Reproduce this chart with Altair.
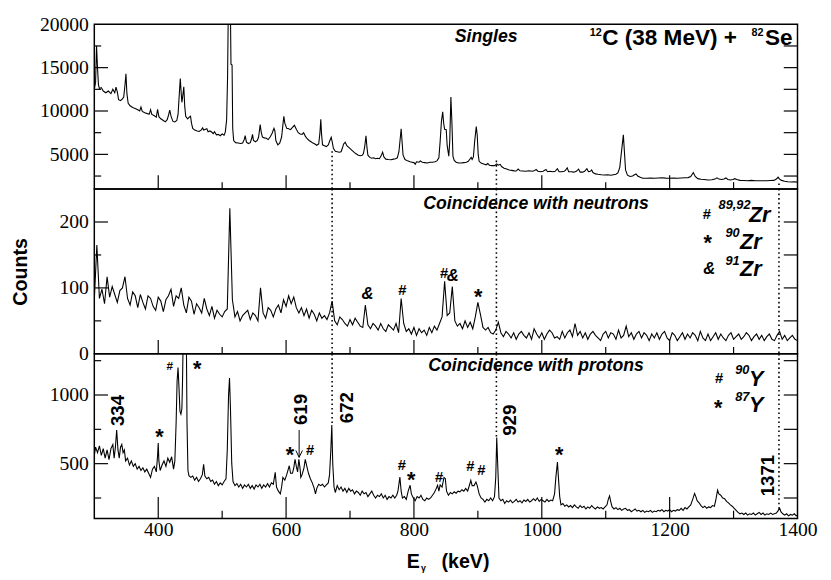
import altair as alt
import pandas as pd

# ---------------- data ----------------
# Singles spectrum: (E keV, counts)
TOP_POINTS = [
    (300, 12500), (302, 13300), (303.5, 17500), (305, 15000), (306.5, 13000), (308, 12600), (311, 12700),
    (314, 12300), (318, 12100), (322, 12300), (326, 12000), (329, 12500), (332, 12100), (334, 12750),
    (336, 12200), (338, 11300), (341, 11200), (344, 11400), (346, 11600), (348, 13000), (349.5, 14300),
    (351, 12000), (353, 10900), (356, 10600), (360, 10400), (364, 10300), (368, 10150), (371, 10000),
    (373, 10450), (375, 9950), (379, 9800), (383, 9700), (386, 9650), (388, 10150), (390, 9600),
    (394, 9450), (397, 9300), (399, 10200), (401, 9350), (404, 9100), (408, 8900), (411, 8750),
    (414, 9000), (416, 9500), (418, 10100), (420, 9400), (423, 8800), (426, 8750), (429, 8900),
    (431, 9600), (433, 12000), (434.5, 13750), (436, 12000), (437, 11000), (438, 11500), (440, 12800),
    (441.5, 10500), (443, 9400), (446, 9100), (448.5, 9300), (450.5, 9400), (452, 8600), (454, 8000),
    (457, 7800), (461, 7700), (464, 7650), (467, 7800), (469.5, 8050), (471, 7800), (474, 7900),
    (476, 7950), (478, 7600), (481, 7700), (484, 7550), (486, 7400), (488, 7600), (491, 7250),
    (494, 7300), (497, 7150), (500, 7350), (503, 7200), (505, 7600), (507, 9000), (508.5, 14000),
    (509.5, 21000), (513, 21000), (513.8, 15400), (515.5, 15300), (516.5, 8000), (518, 6600),
    (521, 6350), (525, 6300), (529, 6250), (532, 6300), (534.5, 6700), (536, 7150), (538, 6400),
    (541, 6250), (544, 6350), (546, 6800), (547.5, 7300), (549, 6600), (552, 6450), (555, 6600),
    (557, 7000), (559.5, 8450), (561, 7600), (563, 7000), (566, 6900), (569, 6850), (572, 6700),
    (575, 7000), (578, 7400), (581, 8000), (582.5, 7700), (584, 6600), (587, 6100), (590, 6300),
    (593, 7000), (595, 8400), (596.5, 9400), (598, 8600), (601, 8000), (604, 7950), (607, 7850),
    (610, 8100), (613, 8350), (616, 7900), (619, 7500), (622, 7350), (625, 7300), (627.5, 7500),
    (630, 7100), (633, 6800), (636, 6600), (639, 6450), (642, 6300), (645, 6200), (648, 6050),
    (651, 6200), (653, 7500), (654.3, 9050), (655.5, 7300), (657, 6100), (660, 6000), (663, 5900),
    (666, 6100), (668.5, 6600), (670.6, 6970), (672, 6500), (674, 5700), (677, 5350), (680, 5300),
    (683, 5250), (686, 5300), (688, 5700), (690, 6200), (692.5, 6400), (695, 6000), (698, 5800),
    (701, 5600), (704, 5400), (707, 5200), (710, 5050), (713, 4900), (716, 4850), (719, 4900),
    (721, 5100), (723, 5900), (725, 7150), (726.5, 5800), (728, 4900), (731, 4650), (734, 4550),
    (737, 4600), (740, 4500), (743, 4550), (746, 4500), (748.5, 4800), (751, 5250), (753, 4700),
    (756, 4450), (760, 4400), (764, 4380), (768, 4450), (771, 4500), (774, 4600), (776.5, 5300),
    (778.5, 6800), (780, 7950), (781.5, 6400), (783, 4900), (786, 4400), (790, 4250), (794, 4150),
    (797, 4100), (800, 4050), (802, 3850), (804, 4150), (808, 4100), (810, 4250), (813, 4100),
    (817, 4050), (821, 4000), (825, 4100), (829, 4100), (833, 4150), (836, 4250), (839, 4600),
    (841, 6500), (843, 8800), (845, 9900), (846.5, 8600), (848, 7900), (850.5, 7850), (852, 6000),
    (854.5, 4800), (856, 6500), (857.8, 11600), (859.5, 8500), (861, 4800), (863, 4300), (866, 4100),
    (870, 4000), (874, 4000), (878, 4050), (882, 4100), (885, 4200), (888, 4500), (889.5, 4650),
    (891, 4400), (893, 4700), (895, 6500), (897.5, 8200), (899, 7200), (900.5, 5000), (902, 4200),
    (905, 4000), (909, 3900), (913, 3800), (915.5, 3950), (918, 3750), (922, 3700), (926, 3700),
    (929.5, 3900), (932, 3750), (935, 3850), (937, 3600), (941, 3400), (945, 3300), (949, 3200),
    (953, 3150), (957, 3100), (960, 3080), (963, 3300), (966, 3100), (970, 3080), (975, 3050),
    (980, 3100), (985, 3050), (988, 3100), (991, 3250), (994, 3050), (998, 3000), (1002, 3050),
    (1006.5, 3250), (1009, 3000), (1013, 3050), (1017, 3000), (1021, 3050), (1024.4, 3350),
    (1027, 3000), (1031, 3000), (1035, 3050), (1037, 3150), (1039.8, 3450), (1042, 3000),
    (1046, 3000), (1050, 2950), (1054, 3050), (1057.6, 3300), (1060, 2950), (1064, 2950),
    (1067, 3050), (1070.5, 3350), (1073, 3000), (1076, 3050), (1078, 3200), (1080, 2900),
    (1084, 2750), (1088, 2700), (1093, 2650), (1098, 2620), (1103, 2650), (1108, 2600), (1112, 2650),
    (1116, 2700), (1119, 2850), (1122, 3500), (1124.5, 5200), (1127.6, 7250), (1129.5, 5000),
    (1131, 3200), (1134, 2600), (1138, 2450), (1142, 2500), (1145, 2650), (1147.5, 2750),
    (1150, 2500), (1154, 2350), (1158, 2250), (1164, 2250), (1170, 2260), (1176, 2250), (1182, 2280),
    (1188, 2300), (1194, 2260), (1200, 2250), (1206, 2270), (1212, 2250), (1218, 2280), (1224, 2300),
    (1229, 2320), (1233, 2450), (1237, 2900), (1240, 2450), (1244, 2200), (1249, 2120), (1254, 2100),
    (1260, 2050), (1266, 2080), (1271, 2150), (1274, 2300), (1277, 2150), (1281, 2100), (1285, 2150),
    (1288, 2280), (1291, 2100), (1295, 2050), (1299, 2100), (1302, 2200), (1305, 2100), (1310, 2000),
    (1316, 1980), (1322, 1950), (1328, 2000), (1334, 1960), (1340, 1950), (1346, 1960), (1352, 1950),
    (1358, 1980), (1363, 2000), (1367, 2150), (1369.6, 2380), (1372, 2150), (1375, 2000),
    (1380, 1900), (1385, 1850), (1390, 1820), (1395, 1850), (1400, 1800),
]

# Coincidence with neutrons: counts in 4 keV channels starting at 300 keV
MID_FIRST_E = 300
MID_BIN_KEV = 4
MID_COUNTS = [
    82, 165, 84, 98, 76, 117, 86, 102, 90, 78,
    96, 100, 117, 84, 74, 94, 88, 70, 90, 78,
    68, 88, 84, 72, 66, 86, 80, 64, 82, 88,
    98, 72, 88, 84, 100, 74, 62, 86, 80, 60,
    76, 70, 62, 84, 68, 58, 72, 54, 66, 60,
    56, 64, 68, 221, 82, 56, 64, 50, 58, 62,
    66, 52, 62, 58, 50, 100, 62, 54, 70, 66,
    56, 68, 74, 62, 82, 72, 88, 76, 86, 70,
    62, 70, 58, 68, 54, 66, 60, 50, 62, 54,
    58, 52, 62, 80, 50, 44, 56, 52, 46, 42,
    52, 44, 54, 48, 42, 40, 74, 44, 38, 46,
    42, 36, 46, 38, 34, 44, 40, 36, 46, 32,
    84, 46, 34, 38, 30, 40, 28, 38, 32, 36,
    28, 40, 32, 42, 36, 46, 56, 110, 58, 62,
    102, 50, 42, 46, 38, 50, 40, 48, 38, 56,
    78, 60, 40, 36, 40, 32, 30, 36, 48, 32,
    26, 34, 30, 24, 32, 22, 30, 34, 28, 24,
    32, 22, 38, 30, 24, 32, 22, 30, 36, 32,
    24, 26, 22, 34, 24, 32, 36, 26, 46, 28,
    34, 24, 32, 22, 30, 34, 28, 24, 20, 30,
    34, 24, 32, 30, 22, 36, 24, 28, 42, 26,
    32, 22, 30, 34, 24, 32, 28, 20, 30, 24,
    32, 22, 30, 34, 24, 20, 32, 28, 20, 26,
    32, 22, 30, 24, 32, 28, 20, 34, 24, 20,
    30, 20, 26, 32, 22, 30, 24, 20, 28, 32,
    22, 26, 30, 22, 26, 32, 28, 20, 26, 30,
    22, 28, 20, 26, 30, 22, 20, 28, 34, 22,
    28, 20, 24, 28, 22, 20,
]

# Coincidence with protons: (E keV, counts)
BOT_POINTS = [
    (300, 560), (302, 620), (305, 580), (308, 630), (311, 560), (314, 610), (317, 540), (320, 600),
    (323, 530), (326, 610), (329, 640), (331, 540), (333, 620), (335, 745), (337, 600), (339, 540),
    (341, 620), (343, 640), (345, 580), (347, 600), (349, 520), (352, 540), (355, 490), (358, 520),
    (361, 480), (364, 500), (367, 460), (370, 480), (373, 450), (376, 470), (379, 440), (382, 460),
    (385, 430), (388, 400), (391, 460), (394, 480), (397, 440), (399, 560), (400, 651), (401, 520),
    (403, 450), (406, 490), (409, 520), (412, 480), (415, 540), (418, 510), (421, 550), (424, 460),
    (426, 520), (428, 800), (429.5, 1100), (431, 1200), (432.5, 1050), (434, 880), (435.5, 860),
    (437, 900), (438, 1100), (439, 1400), (444, 1400), (445, 800), (446.5, 450), (448, 413),
    (451, 400), (454, 410), (457, 380), (460, 400), (463, 370), (466, 390), (469, 420), (471, 496),
    (473, 410), (476, 390), (479, 400), (482, 370), (485, 380), (488, 350), (491, 370), (494, 340),
    (497, 360), (500, 345), (503, 370), (506, 390), (508, 600), (510, 1000), (511.5, 1124),
    (513, 900), (515, 500), (517, 370), (520, 340), (523, 355), (526, 330), (529, 350), (532, 320),
    (535, 345), (538, 330), (541, 350), (544, 320), (547, 340), (550, 315), (553, 345), (556, 330),
    (559, 350), (562, 320), (565, 345), (568, 330), (571, 355), (574, 330), (577, 360), (580, 350),
    (583, 437), (585, 330), (588, 300), (591, 280), (593, 330), (595, 400), (598, 380), (601, 420),
    (604, 470), (605, 485), (607, 430), (610, 430), (612, 470), (614, 532), (616, 480), (618, 440),
    (620, 532), (622, 460), (623, 400), (625, 420), (628, 470), (630, 532), (632, 490), (635, 430),
    (638, 390), (641, 360), (644, 320), (646, 280), (648, 320), (651, 350), (654, 340), (657, 350),
    (660, 330), (663, 345), (666, 360), (668, 420), (670, 600), (671.5, 781), (673, 500), (675, 330),
    (677, 290), (680, 340), (683, 310), (686, 330), (689, 300), (692, 320), (695, 290), (698, 320),
    (701, 300), (704, 310), (707, 280), (710, 300), (713, 290), (716, 270), (719, 300), (722, 280),
    (725, 290), (728, 260), (731, 280), (734, 300), (737, 270), (740, 250), (743, 270), (746, 260),
    (749, 280), (752, 250), (755, 270), (758, 240), (761, 260), (764, 250), (767, 270), (770, 250),
    (773, 270), (775, 300), (778, 402), (780, 300), (782, 250), (785, 260), (788, 240), (791, 300),
    (794, 343), (796, 280), (799, 250), (802, 230), (805, 260), (808, 250), (811, 270), (814, 240),
    (817, 230), (820, 250), (823, 240), (826, 250), (829, 270), (832, 290), (835, 320), (837, 343),
    (839, 300), (841, 345), (844, 330), (847, 400), (849, 392), (851, 300), (854, 270), (857, 290),
    (860, 280), (863, 295), (866, 285), (869, 300), (872, 295), (875, 310), (878, 300), (881, 320),
    (884, 300), (886, 330), (889, 378), (891, 340), (894, 340), (897, 366), (899, 340), (902, 280),
    (905, 250), (908, 240), (911, 220), (914, 240), (917, 230), (920, 250), (923, 230), (926, 260),
    (928, 400), (929.5, 690), (931, 500), (933, 250), (936, 230), (939, 240), (942, 210), (945, 230),
    (948, 220), (951, 235), (954, 215), (957, 225), (960, 240), (963, 220), (966, 230), (969, 215),
    (972, 235), (975, 225), (978, 240), (981, 220), (984, 230), (987, 245), (990, 230), (993, 250),
    (996, 225), (999, 240), (1002, 230), (1005, 220), (1008, 240), (1011, 225), (1014, 235),
    (1017, 230), (1020, 280), (1022, 400), (1024.5, 511), (1026, 400), (1028, 260), (1030, 200),
    (1033, 210), (1036, 190), (1039, 200), (1042, 185), (1045, 195), (1048, 180), (1051, 200),
    (1054, 185), (1057, 175), (1060, 195), (1063, 180), (1066, 190), (1069, 170), (1072, 185),
    (1075, 175), (1078, 195), (1081, 180), (1084, 170), (1087, 185), (1090, 175), (1093, 180),
    (1096, 170), (1099, 185), (1102, 200), (1104, 240), (1106, 265), (1108, 220), (1110, 185),
    (1113, 170), (1116, 180), (1119, 165), (1122, 175), (1125, 160), (1128, 170), (1131, 175),
    (1134, 160), (1137, 165), (1140, 150), (1143, 160), (1146, 170), (1149, 155), (1152, 160),
    (1155, 150), (1158, 160), (1161, 145), (1164, 155), (1167, 150), (1170, 160), (1173, 145),
    (1176, 155), (1179, 150), (1182, 160), (1185, 155), (1188, 165), (1191, 150), (1194, 160),
    (1197, 155), (1200, 165), (1203, 150), (1206, 160), (1209, 155), (1212, 165), (1215, 160),
    (1218, 175), (1221, 160), (1224, 180), (1227, 170), (1230, 185), (1233, 200), (1236, 240),
    (1239, 283), (1241, 260), (1243, 230), (1246, 215), (1249, 195), (1252, 180), (1255, 190),
    (1258, 175), (1261, 185), (1264, 180), (1267, 195), (1270, 190), (1272, 230), (1275, 307),
    (1277, 280), (1280, 270), (1283, 250), (1286, 245), (1289, 225), (1292, 215), (1295, 200),
    (1298, 190), (1301, 175), (1304, 160), (1307, 145), (1310, 135), (1313, 140), (1316, 130),
    (1319, 140), (1322, 125), (1325, 135), (1328, 130), (1331, 140), (1334, 125), (1337, 135),
    (1340, 145), (1343, 130), (1346, 140), (1349, 125), (1352, 135), (1355, 130), (1358, 140),
    (1361, 130), (1364, 135), (1367, 140), (1370, 160), (1372, 177), (1374, 150), (1377, 135),
    (1380, 125), (1383, 135), (1386, 120), (1389, 130), (1392, 125), (1395, 135), (1398, 120),
    (1400, 125),
]

X_DOMAIN = [300, 1400]
TOP_DOMAIN = [1000, 20000]
MID_DOMAIN = [0, 250]
BOT_DOMAIN = [100, 1300]

X_LABELS = [400, 600, 800, 1000, 1200, 1400]
X_MAJOR = [400, 600, 800, 1000, 1200]
X_MINOR = [500, 700, 900, 1100, 1300]
TOP_Y_LABELS = [5000, 10000, 15000, 20000]
TOP_Y_MAJOR = [5000, 10000, 15000]
TOP_Y_MINOR = [2500, 7500, 12500, 17500]
MID_Y_LABELS = [0, 100, 200]
MID_Y_MAJOR = [100, 200]
MID_Y_MINOR = [50, 150]
BOT_Y_LABELS = [500, 1000]
BOT_Y_MAJOR = [500, 1000]
BOT_Y_MINOR = [250, 750, 1250]

# dotted markers at the transitions (keV) and where they start / end (counts)
MARKED_E = [672, 929, 1371]
TOP_MARK_FROM = [5370, 4280, 1650]
BOT_MARK_TO = [781, 690, 167]

# annotation texts with their anchor (keV, counts)
TOP_TITLE = (["Singles"], [913], [18000])
BEAM_MAIN = (["C (38 MeV) +", "Se"], [1094.5, 1349], [17650, 17650])
BEAM_MASS = (["12", "82"], [1075, 1328], [18600, 18600])

MID_TITLE = (["Coincidence with neutrons"], [991], [219])
MID_ELEM = (["Zr", "Zr", "Zr"], [1324, 1310, 1310], [200.5, 159, 118.8])
MID_MASS = (["89,92", "90", "91"], [1276.6, 1287.3, 1287.3], [219.1, 176.8, 135.2])
MID_HASH = (["#", "#", "#"], [1258, 781.7, 847], [204, 89, 114.4])
MID_STAR = (["*", "*"], [1259.6, 900.6], [157.5, 75])
MID_AMP = (["&", "&", "&"], [1262, 727.3, 860.8], [121.4, 83.2, 109.9])

BOT_TITLE = (["Coincidence with protons"], [991], [1175])
BOT_ELEM = (["Y", "Y"], [1324, 1324], [1065, 875])
BOT_MASS = (["90", "87"], [1302.6, 1302.6], [1150, 958])
BOT_HASH = (["#", "#", "#", "#", "#", "#"], [1277.3, 637.5, 781, 839.3, 888.4, 905.3],
            [1089, 560, 454, 368, 447, 418])
BOT_HASH_SMALL = (["#"], [418.1], [1179])
BOT_STAR = (["*", "*", "*", "*", "*", "*"], [1275.8, 461, 402, 606, 795.6, 1027.2],
            [852, 1140, 646, 511, 333, 511])
BOT_ENERGIES = (["334", "619", "672", "929", "1371"], [337.6, 623.7, 695.8, 949.9, 1354],
                [774, 781, 795, 703, 262])
ARROW_SHAFT = ([620.4], [745], [546])
ARROW_HEAD = ([615.3, 625.6], [596, 596], [620.4, 620.4], [546, 546])

X_TITLE = ["E", "γ", "(keV)"]
Y_TITLE = "Counts"

# ---------------- chart ----------------
W, H = 717, 168
SANS = "Liberation Sans"
SERIF = "Liberation Serif"


def y_axis(values, **kw):
    return alt.Axis(values=values, ticks=False, domain=False, grid=False, labelFont=SERIF,
                    labelFontSize=20, labelColor="black", labelPadding=6, format="d", **kw)


X_AXIS_BOTTOM = alt.Axis(values=X_LABELS, ticks=False, domain=False, grid=False,
                         labelFont=SERIF, labelFontSize=20, labelColor="black", format="d",
                         labelPadding=1, labelFlush=False, title=None)


class Panel:
    def __init__(self, dom, yaxis, xaxis=None):
        self.dom, self.yaxis, self.xaxis = dom, yaxis, xaxis

    def X(self):
        return alt.X("E:Q", scale=alt.Scale(domain=X_DOMAIN, nice=False, zero=False),
                     axis=self.xaxis)

    def Y(self):
        return alt.Y("C:Q", scale=alt.Scale(domain=self.dom, nice=False, zero=False),
                     axis=self.yaxis)

    def spectrum(self, df, interp="linear"):
        return alt.Chart(df).mark_line(color="black", strokeWidth=1.1, clip=True,
                                       interpolate=interp).encode(x=self.X(), y=self.Y())

    def x_ticks(self, values, size):
        return alt.Chart(pd.DataFrame({"E": values})).mark_rule(
            color="black", strokeWidth=1.2).encode(x=self.X(), y=alt.value(H), y2=alt.value(H - size))

    def y_ticks(self, values, size, right=False):
        x0, x1 = (W, W - size) if right else (0, size)
        return alt.Chart(pd.DataFrame({"C": values})).mark_rule(
            color="black", strokeWidth=1.2).encode(y=self.Y(), x=alt.value(x0), x2=alt.value(x1))

    def ticks(self, major, minor, xmaj=14, xmin=7):
        return [self.x_ticks(X_MAJOR, xmaj), self.x_ticks(X_MINOR, xmin),
                self.y_ticks(major, 14), self.y_ticks(minor, 7),
                self.y_ticks(major + minor, 14, right=True)]

    def markers(self, c_from, c_to):
        df = pd.DataFrame({"E": MARKED_E, "C": c_from, "C2": c_to})
        return alt.Chart(df).mark_rule(color="black", strokeWidth=1.6,
                                       strokeDash=[1.6, 3.0]).encode(
            x=self.X(), y=self.Y(), y2="C2:Q")

    def texts(self, item, size, weight="bold", style="normal", align="center", angle=0,
              baseline="alphabetic"):
        T, E, C = item
        df = pd.DataFrame({"E": E, "C": C, "T": T})
        return alt.Chart(df).mark_text(font=SANS, fontSize=size, fontWeight=weight,
                                       fontStyle=style, align=align, baseline=baseline,
                                       angle=angle, color="black").encode(
            x=self.X(), y=self.Y(), text="T:N")


top_df = pd.DataFrame({"E": [p[0] for p in TOP_POINTS], "C": [p[1] for p in TOP_POINTS]})
mid_df = pd.DataFrame({"E": [MID_FIRST_E + MID_BIN_KEV * i for i in range(len(MID_COUNTS))],
                       "C": MID_COUNTS})
bot_df = pd.DataFrame({"E": [p[0] for p in BOT_POINTS], "C": [p[1] for p in BOT_POINTS]})

P1 = Panel(TOP_DOMAIN, y_axis(TOP_Y_LABELS, title=None))
top = alt.layer(
    P1.spectrum(top_df),
    *P1.ticks(TOP_Y_MAJOR, TOP_Y_MINOR),
    P1.markers(TOP_MARK_FROM, [TOP_DOMAIN[0]] * 3),
    P1.texts(TOP_TITLE, 18, style="italic"),
    P1.texts(BEAM_MAIN, 23, align="left"),
    P1.texts(BEAM_MASS, 11, align="left"),
).properties(width=W, height=H)

P2 = Panel(MID_DOMAIN, y_axis(MID_Y_LABELS, title=Y_TITLE, titleFont=SANS, titleFontSize=20,
                              titleFontWeight="bold", titleColor="black", titleAngle=270,
                              titleBaseline="alphabetic", titleAlign="center",
                              titleX=-69, titleY=H / 2))
mid = alt.layer(
    P2.spectrum(mid_df),
    *P2.ticks(MID_Y_MAJOR, MID_Y_MINOR),
    P2.markers([MID_DOMAIN[1]] * 3, [MID_DOMAIN[0]] * 3),
    P2.texts(MID_TITLE, 18, style="italic"),
    P2.texts(MID_ELEM, 22, style="italic", align="left"),
    P2.texts(MID_MASS, 13, style="italic", align="left"),
    P2.texts(MID_HASH, 15),
    P2.texts(MID_STAR, 22),
    P2.texts(MID_AMP, 17, style="italic"),
).properties(width=W, height=H)

P3 = Panel(BOT_DOMAIN, y_axis(BOT_Y_LABELS, title=None), xaxis=X_AXIS_BOTTOM)
shaft_df = pd.DataFrame({"E": ARROW_SHAFT[0], "C": ARROW_SHAFT[1], "C2": ARROW_SHAFT[2]})
head_df = pd.DataFrame({"E": ARROW_HEAD[0], "C": ARROW_HEAD[1], "E2": ARROW_HEAD[2],
                        "C2": ARROW_HEAD[3]})

x_title_layers = []
for txt, xpos, ypos, fs in [(X_TITLE[0], 318.5, H + 50, 20), (X_TITLE[1], 333, H + 53, 9),
                            (X_TITLE[2], 354, H + 50, 20)]:
    x_title_layers.append(
        alt.Chart(pd.DataFrame({"T": [txt]})).mark_text(
            font=SANS, fontSize=fs, fontWeight="bold", align="left", baseline="alphabetic",
            color="black").encode(x=alt.value(xpos), y=alt.value(ypos), text="T:N"))

bot = alt.layer(
    P3.spectrum(bot_df),
    *P3.ticks(BOT_Y_MAJOR, BOT_Y_MINOR, xmaj=22, xmin=8),
    P3.markers([BOT_DOMAIN[1]] * 3, BOT_MARK_TO),
    P3.texts(BOT_TITLE, 18, style="italic"),
    P3.texts(BOT_ELEM, 22, style="italic", align="left"),
    P3.texts(BOT_MASS, 13, style="italic", align="left"),
    P3.texts(BOT_HASH, 15),
    P3.texts(BOT_HASH_SMALL, 12),
    P3.texts(BOT_STAR, 22),
    P3.texts(BOT_ENERGIES, 19, align="left", angle=270, baseline="middle"),
    alt.Chart(shaft_df).mark_rule(color="black", strokeWidth=1).encode(
        x=P3.X(), y=P3.Y(), y2="C2:Q"),
    alt.Chart(head_df).mark_rule(color="black", strokeWidth=1).encode(
        x=P3.X(), y=P3.Y(), x2="E2:Q", y2="C2:Q"),
    *x_title_layers,
).properties(width=W, height=H)

chart = alt.vconcat(top, mid, bot, spacing=0, bounds="flush").properties(
    padding={"left": 2, "top": 0, "right": 5, "bottom": 0}
).configure_view(stroke="black", strokeWidth=1.5)

chart.save("out.html", embed_options={"renderer": "svg", "actions": False})
